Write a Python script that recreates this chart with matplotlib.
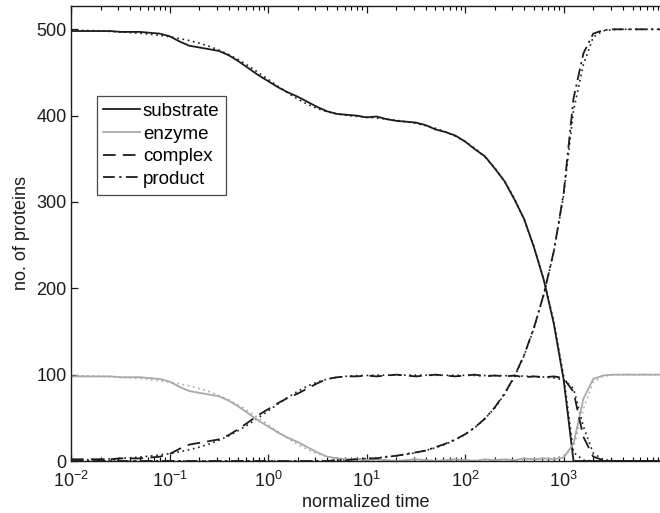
import numpy as np
import matplotlib
matplotlib.use("Agg")
import matplotlib.pyplot as plt
from matplotlib.ticker import LogLocator, NullFormatter, LogFormatterMathtext

plt.rcParams["font.family"] = ["Liberation Sans", "DejaVu Sans"]
plt.rcParams["mathtext.fontset"] = "custom"
plt.rcParams["mathtext.rm"] = "Liberation Sans"
plt.rcParams["mathtext.it"] = "Liberation Sans:italic"

# time grid: 10^-2 ... 10^4, 0.1-decade steps
log_time = np.linspace(-2.0, 4.0, 61)
time = 10.0 ** log_time
x_ticks = [1e-2, 1e-1, 1e0, 1e1, 1e2, 1e3]
y_ticks = [0, 100, 200, 300, 400, 500]

# stochastic simulation (one run)
substrate = [498, 498, 498, 498, 498, 497, 497, 497, 496, 495,
             492, 486, 481, 479, 477, 475, 470, 463, 455, 447,
             440, 433, 427, 422, 416, 410, 405, 402, 401, 400,
             398, 399, 396, 394, 393, 392, 389, 384, 381, 377,
             370, 361, 353, 339, 324, 303, 280, 247, 209, 159,
             94, 0, 0, 0, 0, 0, 0, 0, 0, 0, 0]
enzyme = [98, 98, 98, 98, 98, 97, 97, 97, 96, 95,
          92, 86, 81, 79, 77, 75, 70, 63, 55, 47,
          40, 33, 27, 22, 16, 10, 5, 3, 2, 2,
          1, 2, 1, 0, 1, 2, 1, 0, 1, 2,
          1, 0, 2, 1, 2, 1, 3, 2, 3, 2,
          4, 20, 72, 95, 99, 100, 100, 100, 100, 100, 100]
complex_ = [2, 2, 2, 2, 2, 3, 3, 3, 4, 5,
            8, 14, 19, 21, 23, 25, 30, 37, 45, 53,
            60, 67, 73, 78, 84, 90, 95, 97, 98, 98,
            99, 98, 99, 100, 99, 98, 99, 100, 99, 98,
            99, 100, 98, 99, 98, 99, 97, 98, 97, 98,
            96, 80, 28, 5, 1, 0, 0, 0, 0, 0, 0]
product = [0, 0, 0, 0, 0, 0, 0, 0, 0, 0,
           0, 0, 0, 0, 0, 0, 0, 0, 0, 0,
           0, 0, 0, 0, 0, 0, 0, 1, 1, 2,
           3, 3, 5, 6, 8, 10, 12, 16, 20, 25,
           31, 39, 49, 62, 78, 98, 123, 155, 194, 243,
           310, 420, 472, 495, 499, 500, 500, 500, 500, 500, 500]

# deterministic (mass-action) solution
substrate_det = [499.0, 498.8, 498.5, 498.1, 497.6, 497.0, 496.3, 495.4, 494.3, 493.0,
                 491.4, 489.4, 487.0, 484.0, 480.4, 476.0, 470.8, 464.7, 457.7, 450.0,
                 442.0, 434.0, 426.3, 419.3, 413.2, 408.2, 404.5, 402.0, 400.3, 399.1,
                 398.2, 397.2, 396.0, 394.6, 393.0, 391.0, 388.4, 385.3, 381.3, 376.3,
                 370.0, 362.1, 352.2, 339.7, 323.9, 304.1, 279.3, 248.1, 209.2, 161.7,
                 98.0, 10.0, 1.0, 0.0, 0.0, 0.0, 0.0, 0.0, 0.0, 0.0, 0.0]
enzyme_det = [99.0, 98.8, 98.5, 98.1, 97.6, 97.0, 96.3, 95.4, 94.3, 93.0,
              91.4, 89.4, 87.0, 84.0, 80.4, 76.0, 70.8, 64.7, 57.7, 50.0,
              42.0, 34.0, 26.3, 19.3, 13.3, 8.5, 5.1, 3.0, 1.8, 1.2,
              0.9, 0.7, 0.6, 0.6, 0.6, 0.6, 0.6, 0.7, 0.7, 0.8,
              0.8, 0.9, 1.0, 1.1, 1.2, 1.4, 1.7, 2.1, 2.7, 3.7,
              6.0, 16.0, 60.0, 91.0, 98.2, 99.7, 100.0, 100.0, 100.0, 100.0, 100.0]
complex_det = [1.0, 1.2, 1.5, 1.9, 2.4, 3.0, 3.7, 4.6, 5.7, 7.0,
               8.6, 10.6, 13.0, 16.0, 19.6, 24.0, 29.2, 35.3, 42.3, 50.0,
               58.0, 66.0, 73.7, 80.7, 86.7, 91.5, 94.9, 97.0, 98.2, 98.8,
               99.1, 99.3, 99.4, 99.4, 99.4, 99.4, 99.4, 99.3, 99.3, 99.2,
               99.2, 99.1, 99.0, 98.9, 98.8, 98.6, 98.3, 97.9, 97.3, 96.3,
               94.0, 84.0, 40.0, 9.0, 1.8, 0.3, 0.0, 0.0, 0.0, 0.0, 0.0]
product_det = [0, 0, 0, 0, 0, 0, 0, 0, 0, 0,
               0, 0, 0, 0, 0, 0, 0, 0, 0, 0,
               0, 0, 0, 0, 0.1, 0.3, 0.6, 1.0, 1.5, 2.1,
               2.7, 3.5, 4.6, 6.0, 7.6, 9.6, 12.2, 15.4, 19.4, 24.5,
               30.8, 38.8, 48.8, 61.4, 77.3, 97.3, 122.4, 154.0, 193.5, 242.0,
               308.0, 406.0, 459.0, 491.0, 498.2, 499.7, 500.0, 500.0, 500.0, 500.0, 500.0]

labels = ["substrate", "enzyme", "complex", "product"]
black = "#1c1c1c"
gray = "#a9a9a9"
styles = [
    dict(color=black, linestyle="-"),
    dict(color=gray, linestyle="-"),
    dict(color=black, linestyle=(0, (7, 4))),
    dict(color=black, linestyle=(0, (6.5, 2.5, 1.2, 2.5))),
]

fig = plt.figure(figsize=(6.6, 5.13), dpi=100)
ax = fig.add_axes([71 / 660, 1 - 461 / 513, 589 / 660, 455 / 513])

# deterministic curves, dotted
for series, st in zip([substrate_det, enzyme_det, complex_det, product_det], styles):
    ax.plot(time, series, color=st["color"], linestyle=(0, (1, 2.2)), linewidth=1.2)

# stochastic curves
handles = []
for series, st, lab in zip([substrate, enzyme, complex_, product], styles, labels):
    h, = ax.plot(time, series, linewidth=1.3, label=lab, **st)
    handles.append(h)

ax.set_xscale("log")
ax.set_xlim(1e-2, 9.5e3)
ax.set_ylim(0, 527)
ax.set_xticks(x_ticks)
ax.xaxis.set_major_formatter(LogFormatterMathtext())
ax.xaxis.set_minor_locator(LogLocator(base=10, subs=np.arange(2, 10), numticks=20))
ax.xaxis.set_minor_formatter(NullFormatter())
ax.set_yticks(y_ticks)

ax.spines["right"].set_visible(False)
for s in ["left", "top", "bottom"]:
    ax.spines[s].set_linewidth(1.0)
    ax.spines[s].set_color(black)

ax.tick_params(axis="both", which="major", direction="in", length=5, width=0.9,
               labelsize=13, colors=black)
ax.tick_params(axis="both", which="minor", direction="in", length=3, width=0.8)
ax.tick_params(axis="x", which="both", top=True, bottom=True, pad=7)
ax.tick_params(axis="y", which="both", left=True, right=False, pad=3)

ax.set_xlabel("normalized time", fontsize=13, labelpad=2, color=black)
ax.set_ylabel("no. of proteins", fontsize=13, labelpad=5, color=black)

leg = ax.legend(handles=handles, loc="upper left", bbox_to_anchor=(0.044, 0.802),
                borderaxespad=0, fontsize=13.5, frameon=True, fancybox=False,
                handlelength=1.95, handletextpad=0.15, labelspacing=0.3,
                borderpad=0.35)
leg.get_frame().set_edgecolor(black)
leg.get_frame().set_linewidth(0.9)

fig.savefig("out.png", dpi=100)
